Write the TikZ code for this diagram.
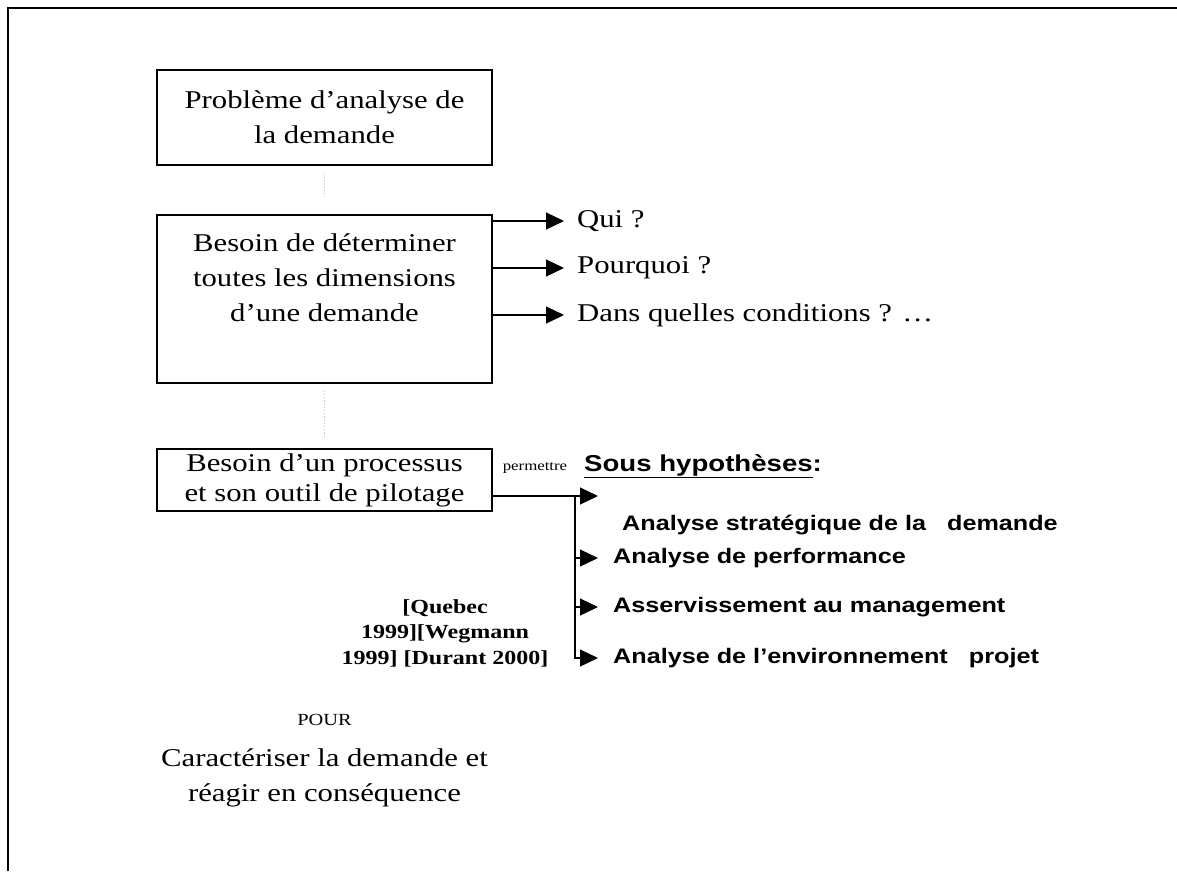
\documentclass[tikz,border=0pt]{standalone}
\usepackage{fontspec}
\setmainfont{Liberation Serif}[FakeStretch=1.2]
\newfontfamily\arialb{Liberation Sans}[FakeStretch=1.2]
\usetikzlibrary{arrows.meta}
\tikzset{
  box/.style={draw,line width=1.6pt,minimum width=335pt,inner sep=0pt,align=center},
  txt/.style={anchor=west,inner sep=0pt},
  arr/.style={line width=1.2pt,-{Triangle[length=18pt,width=17pt]}},
  ghost/.style={gray!45,dotted,line width=1.2pt},
  hyp/.style={txt,font=\arialb\bfseries\fontsize{21}{25}\selectfont}
}
\begin{document}
\begin{tikzpicture}[x=1pt,y=-1pt,font=\fontsize{25.6}{35}\selectfont]
\useasboundingbox (0,0) rectangle (1177,871);
% frame
\draw[line width=2pt] (8,871) -- (8,8) -- (1177,8);
% boxes
\node[box,minimum height=95pt] (prob) at (324.5,117.5) {Problème d’analyse de\\la demande};
\node[box,minimum height=168pt] (dim) at (324.5,299) {\parbox[c][168pt][t]{335pt}{\centering\fontsize{25.6}{35}\selectfont\vspace*{19pt}Besoin de déterminer\\toutes les dimensions\\d’une demande}};
\node[box,minimum height=62pt,font=\fontsize{25.6}{30}\selectfont] (proc) at (324.5,480) {Besoin d’un processus\\et son outil de pilotage};
\draw[ghost,shorten <=8pt,shorten >=17pt] (prob) -- (dim);
\draw[ghost,shorten <=7pt,shorten >=12pt] (dim) -- (proc);
% questions
\node[txt] (qui) at (577,221) {Qui ?};
\node[txt] (pq) at (577,268) {Pourquoi ?};
\node[txt] (cond) at (577,315) {Dans quelles conditions ? …};
\foreach \q in {qui,pq,cond}{\draw[arr,shorten >=13pt] (dim.east |- \q.west) -- (\q.west);}
% hypotheses
\node[font=\fontsize{14}{16}\selectfont,inner sep=0pt] (perm) at (535,468) {permettre};
\node[txt,font=\arialb\bfseries\fontsize{23}{27}\selectfont] (sous) at (584,466) {\underline{Sous hypothèses}:};
\node[hyp] (strat) at (622,525) {Analyse stratégique de la\ \ \ demande};
\node[hyp] (perf) at (613,558) {Analyse de performance};
\node[hyp] (asserv) at (613,607) {Asservissement au management};
\node[hyp] (env) at (613,658) {Analyse de l’environnement\ \ \ projet};
\coordinate (split) at (575,496);
\coordinate (aim) at (598,496);
\draw[line width=1.2pt] (proc.east |- split) -- (split);
\draw[arr] (split) -- (aim);
\draw[arr,shorten >=15pt] (split) |- (env.west);
\foreach \h in {perf,asserv}{\draw[arr,shorten >=15pt] (split |- \h.west) -- (\h.west);}
% references
\node[font=\bfseries\fontsize{20}{25.5}\selectfont,align=center,inner sep=0pt] (refs) at (445,633) {[Quebec\\1999][Wegmann\\1999] [Durant 2000]};
% conclusion
\node[font=\fontsize{17}{20}\selectfont,inner sep=0pt] (pour) at (324.5,720) {POUR};
\node[align=center,inner sep=0pt] (goal) at (324.5,778) {Caractériser la demande et\\réagir en conséquence};
\end{tikzpicture}
\end{document}
